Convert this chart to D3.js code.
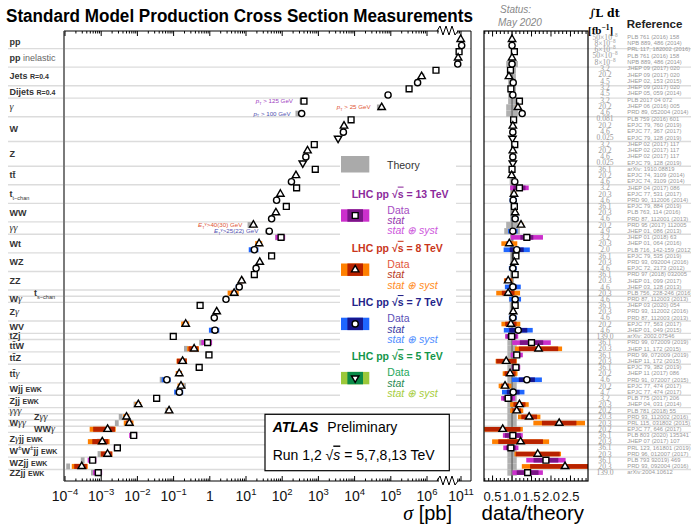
<!DOCTYPE html>
<html>
<head>
<meta charset="utf-8">
<script src="https://cdn.jsdelivr.net/npm/d3@7"></script>
<style>
body { margin: 0; background: #fff; }
svg { font-family: "Liberation Sans", Arial, Helvetica, sans-serif; }
</style>
</head>
<body>
<div id="chart"></div>
<script>
// ---- data ----
var groupLabels = [
  [['pp','b']], [['pp','b'],[' inelastic','n']], [['Jets ','b'],['R=0.4','s']], [['Dijets ','b'],['R=0.4','s']],
  [['γ','i']], [['W','b']], [['Z','b']], [['tt̄','b']], [['t','b'],['t−chan','sub']], [['WW','b']],
  [['γγ','i']], [['Wt','b']], [['WZ','b']], [['ZZ','b']], [['t','b'],['s−chan','sub']], [['W','b'],['γ','i']],
  [['Z','b'],['γ','i']], [['WV','b']], [['tZj','b']], [['tt̄W','b']], [['tt̄Z','b']], [['tt̄','b'],['γ','i']],
  [['Wjj ','b'],['EWK','s']], [['Zjj ','b'],['EWK','s']], [['γγγ','i']], [['Z','b'],['γγ','i']],
  [['W','b'],['γγ','i']], [['WW','b'],['γ','i']], [['Z','b'],['γ','i'],['jj ','b'],['EWK','s']],
  [['W','b'],['±','sup'],['W','b'],['±','sup'],['jj ','b'],['EWK','s']], [['WZjj ','b'],['EWK','s']], [['ZZjj ','b'],['EWK','s']]
];
var groupSize = [2,3,3,2,3,4,4,3,3,3,2,3,3,3,1,1,3,2,1,2,2,3,2,2,1,1,1,1,2,2,2,1];

// one entry per measurement (row)
var energy = [8,7,13,8,7,13,8,7,13,7,13,8,7,13,8,7,5,13,8,7,5,13,8,7,13,8,7,13,8,7,8,7,13,8,7,13,8,7,13,8,7,8,7,13,8,7,8,7,13,13,8,13,8,13,8,7,8,7,13,8,8,8,8,8,13,8,13,8,13,8,13];
var sigma = [9.8e10,1.05e11,8.7e10,8.1e10,7.9e10,1.77e6,7.1e5,5.5e5,3.2e5,8.4e4,400,5.6e4,345,8.0e3,5.1e3,4.9e3,3.5e3,770,500,450,370,820,240,180,250,89,70,130,67,51,16,44,93,23,17,51,24,19,17,7.6,6.5,4.7,2.8,0.54,1.55,1.33,0.216,1.39,0.098,0.87,0.37,0.95,0.177,0.51,0.143,0.065,0.16,0.144,0.034,0.0106,0.075,0.005,0.006,0.0015,0.0079,0.00107,0.0028,0.0015,5.8e-4,2.9e-4,8.3e-4];
var ratio = [1.0,1.0,1.06,1.0,1.0,0.96,0.92,1.03,0.97,1.02,1.19,1.15,1.26,1.04,1.02,1.02,1.01,1.07,1.02,1.02,1.02,1.0,0.99,1.07,1.19,1.05,1.03,1.06,1.08,1.08,1.23,1.02,1.38,0.93,1.12,1.1,1.06,1.02,1.08,0.9,1.02,0.9,1.08,1.08,1.03,1.02,0.97,1.16,0.99,1.5,1.68,1.12,0.85,1.1,0.95,1.38,0.82,1.03,0.9,1.19,1.12,1.44,2.21,0.76,1.02,1.22,0.97,1.66,1.87,2.36,1.4];
var statErr = [0.005,0.005,0.01,0.01,0.01,0.01,0.01,0.02,0.01,0.02,0.01,0.01,0.01,0.005,0.005,0.005,0.005,0.005,0.005,0.005,0.01,0.005,0.005,0.01,0.13,0.02,0.03,0.02,0.02,0.03,0.01,0.02,0.12,0.08,0.16,0.02,0.02,0.04,0.03,0.1,0.1,0.18,0.05,0.02,0.02,0.03,0.15,0.2,0.13,0.2,0.3,0.08,0.3,0.04,0.15,0.15,0.12,0.16,0.14,0.13,0.1,0.14,0.2,0.6,0.2,0.47,0.13,0.34,0.17,0.38,0.2];
var totErr = [0.01,0.01,0.03,0.02,0.02,0.03,0.03,0.05,0.04,0.06,0.03,0.05,0.04,0.03,0.02,0.02,0.02,0.03,0.02,0.02,0.03,0.03,0.03,0.04,0.2,0.06,0.09,0.04,0.05,0.08,0.05,0.12,0.3,0.22,0.3,0.04,0.04,0.1,0.05,0.12,0.2,0.34,0.14,0.04,0.05,0.1,0.25,0.32,0.17,0.33,0.36,0.14,0.32,0.1,0.2,0.28,0.2,0.28,0.2,0.2,0.15,0.2,0.3,0.68,0.25,0.6,0.2,0.36,0.27,0.47,0.28];
var theoryErr = [0.02,0.02,0.03,0.03,0.15,0.1,0.1,0.1,0.1,0.1,0.1,0.15,0.15,0.03,0.03,0.03,0.03,0.03,0.03,0.03,0.03,0.06,0.06,0.06,0.05,0.05,0.05,0.05,0.05,0.05,0.15,0.2,0.05,0.05,0.05,0.05,0.05,0.05,0.05,0.05,0.05,0.05,0.08,0.06,0.06,0.06,0.1,0.1,0.1,0.12,0.12,0.12,0.12,0.12,0.12,0.12,0.12,0.12,0.12,0.12,0.12,0.12,0.12,0.12,0.12,0.12,0.12,0.12,0.12,0.12,0.12];
var lumi = ['50×10^−8','8×10^−8','6×10^−8','50×10^−8','8×10^−8','3.2','20.2','4.5','3.2','4.5','3.2','20.2','4.6','0.081','20.2','4.6','0.025','3.2','20.2','4.6','0.025','36.1','20.2','4.6','3.2','20.3','4.6','36.1','20.3','4.6','20.2','4.9','3.2','20.3','2.0','36.1','20.3','4.6','36.1','20.3','4.6','20.3','4.6','36.1','20.3','4.6','20.2','4.6','139.0','36.1','20.3','36.1','20.3','36.1','20.2','4.6','20.2','4.7','3.2','20.3','20.2','20.3','20.3','20.2','36.1','20.3','36.1','20.3','36.1','20.3','139.0'];
var refs = ['PLB 761 (2016) 158','NPB 889, 486 (2014)','PRL 117, 182002 (2016)','PLB 761 (2016) 158','NPB 889, 486 (2014)',
  'JHEP 09 (2017) 020','JHEP 09 (2017) 020','JHEP 02, 153 (2015)','JHEP 09 (2017) 020','JHEP 05, 059 (2014)',
  'PLB 2017 04 072','JHEP 06 (2016) 005','PRD 89, 052004 (2014)','PLB 759 (2016) 601','EPJC 79, 760 (2019)',
  'EPJC 77, 367 (2017)','EPJC 79, 128 (2019)','JHEP 02 (2017) 117','JHEP 02 (2017) 117','JHEP 02 (2017) 117',
  'EPJC 79, 128 (2019)','arXiv: 1910.08819','EPJC 74, 3109 (2014)','EPJC 74, 3109 (2014)','JHEP 04 (2017) 086',
  'EPJC 77, 531 (2017)','PRD 90, 112006 (2014)','EPJC 79, 884 (2019)','PLB 763, 114 (2016)','PRD 87, 112001 (2013)',
  'PRD 95 (2017) 112005','JHEP 01, 086 (2013)','JHEP 01 (2018) 63','JHEP 01, 064 (2016)','PLB 716, 142-159 (2012)',
  'EPJC 79, 535 (2019)','PRD 93, 092004 (2016)','EPJC 72, 2173 (2012)','PRD 97 (2018) 032005','JHEP 01, 099 (2017)',
  'JHEP 03, 128 (2013)','PLB 756, 228-246 (2016)','PRD 87, 112003 (2013)','JHEP 03 (2020) 054','PRD 93, 112002 (2016)',
  'PRD 87, 112003 (2013)','EPJC 77, 563 (2017)','JHEP 01, 049 (2015)','arXiv: 2002.07546','PRD 99, 072009 (2019)',
  'JHEP 11, 172 (2015)','PRD 99, 072009 (2019)','JHEP 11, 172 (2015)','EPJC 79, 382 (2019)','JHEP 11 (2017) 086',
  'PRD 91, 072007 (2015)','EPJC 77, 474 (2017)','EPJC 77, 474 (2017)','PLB 775 (2017) 206','JHEP 04, 031 (2014)',
  'PLB 781 (2018) 55','PRD 93, 112002 (2016)','PRL 115, 031802 (2015)','EPJC 77, 646 (2017)','PLB 803 (2020) 135341',
  'JHEP 07 (2017) 107','PRL 123, 161801 (2019)','PRD 96, 012007 (2017)','PLB 793 92019) 469','PRD 93, 092004 (2016)',
  'arXiv:2004.10612'];
// kinematic notes: row, parts, colour
var notes = [
  [10, [['p','it'],['T','sub'],[' > 125 GeV','']], '#a040c0'],
  [11, [['p','it'],['T','sub'],[' > 25 GeV','']], '#e05535'],
  [12, [['p','it'],['T','sub'],[' > 100 GeV','']], '#5050b0'],
  [30, [['E','it'],['T','sub'],['γ','sup'],['>40(30) GeV','']], '#e05535'],
  [31, [['E','it'],['T','sub'],['γ','sup'],['>25(22) GeV','']], '#5050b0']
];
var mainTicks = [1e-4,1e-3,1e-2,1e-1,1,10,100,1e3,1e4,1e5,1e6,1e11];
var mainTickText = [['10','−4'],['10','−3'],['10','−2'],['10','−1'],['1',''],['10','1'],['10','2'],['10','3'],['10','4'],['10','5'],['10','6'],['10','11']];
var ratioTicks = [0.5,1.0,1.5,2.0,2.5];
var legendEnergy = [13, 8, 7, 5];

// ---- styles ----
var outerCol = {13:'#cc2fcc', 8:'#ff8000', 7:'#1f66ff', 5:'#9cc83a'};
var innerCol = {13:'#7a1586', 8:'#b82200', 7:'#16168e', 5:'#0b8a48'};
var titleCol = {13:'#8c2a9c', 8:'#c9361b', 7:'#24248a', 5:'#14964a'};
var dataCol  = {13:'#a64cc2', 8:'#e2553c', 7:'#5b4fb6', 5:'#25a85b'};
var statCol  = {13:'#9538ad', 8:'#b93b22', 7:'#3b3ba2', 5:'#2a8a51'};
var systCol  = {13:'#cd57dc', 8:'#ff8c1c', 7:'#4e8dff', 5:'#a6cd3c'};
var symType = {13:d3.symbolSquare, 8:d3.symbolTriangle, 7:d3.symbolCircle, 5:d3.symbolTriangle};
var symSize = {13:34, 8:24, 7:30, 5:24};

var svg = d3.select('#chart').append('svg').attr('width', 691).attr('height', 524);

var yRow = d3.scaleLinear().domain([0, 70]).range([39.3, 472.6]);
var xs = d3.scaleLog().domain([1e-4, Math.pow(10, 6.5), Math.pow(10, 10.5), 1e11]).range([65, 445.1, 445.1, 461]);
var rs = d3.scaleLinear().domain([0.28, 2.95]).range([484, 588]);
var yTop = 31, yBot = 481;

function addParts(t, parts, base) {
  var cur = 0;
  parts.forEach(function(p) {
    var st = p[1], off = 0;
    var sp = t.append('tspan').text(p[0]).attr('font-size', base);
    if (st == 'b') sp.attr('font-weight', 'bold');
    else if (st == 'n') sp.attr('fill', '#666');
    else if (st == 's') sp.attr('font-weight', 'bold').attr('font-size', base * 0.78);
    else if (st == 'i') sp.attr('font-style', 'italic').attr('font-family', '"Liberation Serif", serif').attr('font-size', base * 1.12);
    else if (st == 'it') sp.attr('font-style', 'italic');
    else if (st == 'sub') { sp.attr('font-size', base * 0.62); off = base * 0.28; }
    else if (st == 'sup') { sp.attr('font-size', base * 0.7); off = -base * 0.4; }
    if (off != cur) { sp.attr('dy', off - cur); cur = off; }
  });
}

function marker(g, e, x, y) {
  g.append('path')
    .attr('d', d3.symbol(symType[e], symSize[e])())
    .attr('transform', 'translate(' + x + ',' + y + ')' + (e == 5 ? ' rotate(180)' : ''))
    .attr('fill', '#fff').attr('stroke', '#000').attr('stroke-width', 1.4);
}

// group starts
var starts = [], acc = 0;
groupSize.forEach(function(n) { starts.push(acc); acc += n; });

// ---- title ----
svg.append('text').attr('x', 6).attr('y', 21.5).attr('font-size', 17.6).attr('font-weight', 'bold')
  .attr('textLength', 467).attr('lengthAdjust', 'spacingAndGlyphs')
  .text('Standard Model Production Cross Section Measurements');

// ---- separators ----
var sep = svg.append('g');
starts.forEach(function(s, gi) {
  if (gi == 0) return;
  var y = (yRow(s - 1) + yRow(s)) / 2;
  sep.append('line').attr('x1', 8).attr('x2', 471).attr('y1', y).attr('y2', y).attr('stroke', '#dcdcdc').attr('stroke-width', 1.4);
  sep.append('line').attr('x1', 484).attr('x2', 691).attr('y1', y).attr('y2', y).attr('stroke', '#dcdcdc').attr('stroke-width', 1.4);
});

// ---- group labels ----
var indented = [14, 25, 27];
groupLabels.forEach(function(parts, gi) {
  var s = starts[gi], n = groupSize[gi];
  var y = (yRow(s) + yRow(s + n - 1)) / 2 + 3;
  var t = svg.append('text').attr('x', indented.indexOf(gi) >= 0 ? 34 : 9.5).attr('y', y).attr('fill', '#333');
  addParts(t, parts, 9);
});

// ---- legend background ----
svg.append('rect').attr('x', 340).attr('y', 146).attr('width', 116).attr('height', 257).attr('fill', '#fff');

// ---- main panel ----
svg.append('clipPath').attr('id', 'mclip').append('rect').attr('x', 65).attr('y', yTop).attr('width', 406).attr('height', yBot - yTop);
var mg = svg.append('g').attr('clip-path', 'url(#mclip)');
var bh = 5;
sigma.forEach(function(v, i) {
  var y = yRow(i), th = v / ratio[i], e = energy[i];
  mg.append('rect').attr('x', xs(th * (1 - theoryErr[i]))).attr('y', y - 2.9)
    .attr('width', xs(th * (1 + theoryErr[i])) - xs(th * (1 - theoryErr[i]))).attr('height', 5.8).attr('fill', '#aaa');
  mg.append('rect').attr('x', xs(v * (1 - totErr[i]))).attr('y', y - bh / 2)
    .attr('width', xs(v * (1 + totErr[i])) - xs(v * (1 - totErr[i]))).attr('height', bh).attr('fill', outerCol[e]);
  mg.append('rect').attr('x', xs(v * (1 - statErr[i]))).attr('y', y - bh / 2)
    .attr('width', xs(v * (1 + statErr[i])) - xs(v * (1 - statErr[i]))).attr('height', bh).attr('fill', innerCol[e]);
});
sigma.forEach(function(v, i) { marker(mg, energy[i], xs(v), yRow(i)); });

// kinematic notes
notes.forEach(function(n) {
  var t = svg.append('text').attr('x', xs(sigma[n[0]]) - 11).attr('y', yRow(n[0]) + 2)
    .attr('text-anchor', 'end').attr('fill', n[2]);
  addParts(t, n[1], 6.2);
});

// main frame & axes
var ax = svg.append('g');
ax.append('line').attr('x1', 64).attr('x2', 471).attr('y1', yTop).attr('y2', yTop).attr('stroke', '#000');
ax.append('line').attr('x1', 64).attr('x2', 471).attr('y1', yBot).attr('y2', yBot).attr('stroke', '#000');
ax.append('line').attr('x1', 471).attr('x2', 471).attr('y1', yTop).attr('y2', yBot).attr('stroke', '#000');
ax.append('line').attr('x1', 64).attr('x2', 64).attr('y1', yTop).attr('y2', yBot).attr('stroke', '#7a7a7a').attr('stroke-width', 2);
var minors = [];
for (var k = -4; k < 6; k++) for (var m = 2; m < 10; m++) minors.push(m * Math.pow(10, k));
minors.push(2e6, 6e10, 7e10, 8e10, 9e10);
minors.forEach(function(v) {
  var x = xs(v);
  ax.append('line').attr('x1', x).attr('x2', x).attr('y1', yBot).attr('y2', yBot - 2.5).attr('stroke', '#000');
  ax.append('line').attr('x1', x).attr('x2', x).attr('y1', yTop).attr('y2', yTop + 2.5).attr('stroke', '#000');
});
mainTicks.forEach(function(v, i) {
  var x = xs(v);
  ax.append('line').attr('x1', x).attr('x2', x).attr('y1', yBot).attr('y2', yBot - 5).attr('stroke', '#000');
  ax.append('line').attr('x1', x).attr('x2', x).attr('y1', yTop).attr('y2', yTop + 5).attr('stroke', '#000');
  var t = ax.append('text').attr('x', x).attr('y', 501).attr('text-anchor', 'middle').attr('font-size', 14).attr('fill', '#111');
  t.append('tspan').text(mainTickText[i][0]);
  if (mainTickText[i][1]) t.append('tspan').attr('font-size', 9.5).attr('dy', -6).text(mainTickText[i][1]);
});
// axis break
[yTop, yBot].forEach(function(y0) {
  ax.append('rect').attr('x', 439).attr('y', y0 - 6).attr('width', 18).attr('height', 12).attr('fill', '#fff');
  var pts = [[437, y0], [440, y0 - 5], [443, y0 + 4], [446, y0 - 5], [449, y0 + 4], [452, y0 - 5], [455, y0 + 4], [458, y0]];
  ax.append('path').attr('d', d3.line()(pts)).attr('fill', 'none').attr('stroke', '#000').attr('stroke-width', 1);
});
svg.append('text').attr('x', 452).attr('y', 520).attr('text-anchor', 'end').attr('font-size', 20)
  .call(function(t) {
    t.append('tspan').attr('font-style', 'italic').attr('font-family', '"Liberation Serif", serif').text('σ');
    t.append('tspan').text(' [pb]');
  });

// ---- legend ----
var lg = svg.append('g');
lg.append('rect').attr('x', 341).attr('y', 156).attr('width', 28.3).attr('height', 16.5).attr('fill', '#aaa');
lg.append('text').attr('x', 387).attr('y', 169).attr('font-size', 10.5).attr('fill', '#333').text('Theory');
legendEnergy.forEach(function(e, k) {
  var b = 194 + k * 54.2;
  var t = lg.append('text').attr('x', 351.7).attr('y', b + 3.6).attr('font-size', 10.5).attr('font-weight', 'bold').attr('fill', titleCol[e]);
  t.append('tspan').text('LHC pp  √');
  t.append('tspan').attr('text-decoration', 'overline').text('s');
  t.append('tspan').text(' = ' + e + ' TeV');
  lg.append('rect').attr('x', 341).attr('y', b + 15.3).attr('width', 28.3).attr('height', 12.4).attr('fill', outerCol[e]);
  lg.append('rect').attr('x', 347.4).attr('y', b + 15.3).attr('width', 15.6).attr('height', 12.4).attr('fill', innerCol[e]);
  marker(lg, e, 355.2, b + 21.5);
  lg.append('text').attr('x', 387.3).attr('y', b + 19.8).attr('font-size', 10.5).attr('fill', dataCol[e]).text('Data');
  lg.append('text').attr('x', 387.3).attr('y', b + 30.2).attr('font-size', 10.5).attr('font-style', 'italic').attr('fill', statCol[e]).text('stat');
  lg.append('text').attr('x', 387.3).attr('y', b + 40.4).attr('font-size', 10.5).attr('font-style', 'italic').attr('fill', systCol[e]).text('stat ⊕ syst');
});

// ATLAS box
svg.append('rect').attr('x', 265).attr('y', 414.3).attr('width', 184.3).attr('height', 56.4).attr('fill', '#fff').attr('stroke', '#000').attr('stroke-width', 1.2);
svg.append('text').attr('x', 272.7).attr('y', 432).attr('font-size', 14).call(function(t) {
  t.append('tspan').attr('font-weight', 'bold').attr('font-style', 'italic').text('ATLAS');
  t.append('tspan').attr('dx', 9).text('Preliminary');
});
svg.append('text').attr('x', 272.7).attr('y', 459.5).attr('font-size', 14).call(function(t) {
  t.append('tspan').text('Run 1,2  √');
  t.append('tspan').attr('font-style', 'italic').attr('text-decoration', 'overline').text('s');
  t.append('tspan').text(' = 5,7,8,13 TeV');
});

// ---- ratio panel ----
svg.append('clipPath').attr('id', 'rclip').append('rect').attr('x', 484).attr('y', yTop).attr('width', 104).attr('height', yBot - yTop);
var rg = svg.append('g').attr('clip-path', 'url(#rclip)');
ratio.forEach(function(r, i) {
  rg.append('rect').attr('x', rs(1 - theoryErr[i])).attr('y', yRow(i) - 3.1)
    .attr('width', rs(1 + theoryErr[i]) - rs(1 - theoryErr[i])).attr('height', 6.2).attr('fill', '#b0b0b0');
});
rg.append('line').attr('x1', rs(1)).attr('x2', rs(1)).attr('y1', yTop).attr('y2', yBot).attr('stroke', '#555').attr('stroke-width', 1);
ratio.forEach(function(r, i) {
  var y = yRow(i), e = energy[i];
  rg.append('rect').attr('x', rs(r * (1 - totErr[i]))).attr('y', y - 2.3)
    .attr('width', rs(r * (1 + totErr[i])) - rs(r * (1 - totErr[i]))).attr('height', 4.6).attr('fill', outerCol[e]);
  rg.append('rect').attr('x', rs(r * (1 - statErr[i]))).attr('y', y - 2.3)
    .attr('width', rs(r * (1 + statErr[i])) - rs(r * (1 - statErr[i]))).attr('height', 4.6).attr('fill', innerCol[e]);
});
ratio.forEach(function(r, i) { marker(rg, energy[i], rs(r), yRow(i)); });

var rax = svg.append('g');
rax.append('rect').attr('x', 484).attr('y', yTop).attr('width', 104).attr('height', yBot - yTop).attr('fill', 'none').attr('stroke', '#000').attr('stroke-width', 1.2);
d3.range(3, 30).forEach(function(k) {
  var v = k / 10, x = rs(v), len = (k % 5 == 0) ? 5.5 : 3;
  rax.append('line').attr('x1', x).attr('x2', x).attr('y1', yBot).attr('y2', yBot - len).attr('stroke', '#000');
  rax.append('line').attr('x1', x).attr('x2', x).attr('y1', yTop).attr('y2', yTop + len).attr('stroke', '#000');
});
ratioTicks.forEach(function(v) {
  rax.append('text').attr('x', rs(v)).attr('y', 501).attr('text-anchor', 'middle').attr('font-size', 13).attr('fill', '#111').text(v.toFixed(1));
});
svg.append('text').attr('x', 481.5).attr('y', 520).attr('font-size', 20.5).text('data/theory');

// ---- header of right columns ----
svg.append('text').attr('x', 500).attr('y', 13).attr('font-size', 10).attr('font-style', 'italic').attr('fill', '#888').text('Status:');
svg.append('text').attr('x', 498).attr('y', 26).attr('font-size', 10).attr('font-style', 'italic').attr('fill', '#888').text('May 2020');
svg.append('text').attr('x', 589).attr('y', 17).attr('font-size', 11).attr('font-weight', 'bold').attr('font-family', '"DejaVu Serif", serif').text('∫L dt');
svg.append('text').attr('x', 588).attr('y', 34).attr('font-size', 11).attr('font-weight', 'bold').attr('font-family', '"Liberation Serif", serif')
  .call(function(t) {
    t.append('tspan').text('[fb');
    t.append('tspan').attr('font-size', 7.5).attr('dy', -4).text('−1');
    t.append('tspan').attr('dy', 4).text(']');
  });
svg.append('text').attr('x', 626.7).attr('y', 28).attr('font-size', 11.5).attr('font-weight', 'bold').attr('fill', '#222').text('Reference');

// lumi & references
function colY(i) { return i < 22 ? 37 + i * (yRow(22) - 37) / 22 : yRow(i); }
lumi.forEach(function(l, i) {
  var t = svg.append('text').attr('x', 605).attr('y', colY(i) + 2.6).attr('text-anchor', 'middle')
    .attr('font-size', 7.6).attr('font-family', '"Liberation Serif", serif').attr('fill', '#999');
  var p = l.split('^');
  t.append('tspan').text(p[0]);
  if (p[1]) t.append('tspan').attr('font-size', 5.2).attr('dy', -3).text(p[1]);
});
refs.forEach(function(r, i) {
  svg.append('text').attr('x', 627.3).attr('y', colY(i) + 1.8).attr('font-size', 5.8).attr('fill', '#999').text(r);
});
</script>
</body>
</html>
